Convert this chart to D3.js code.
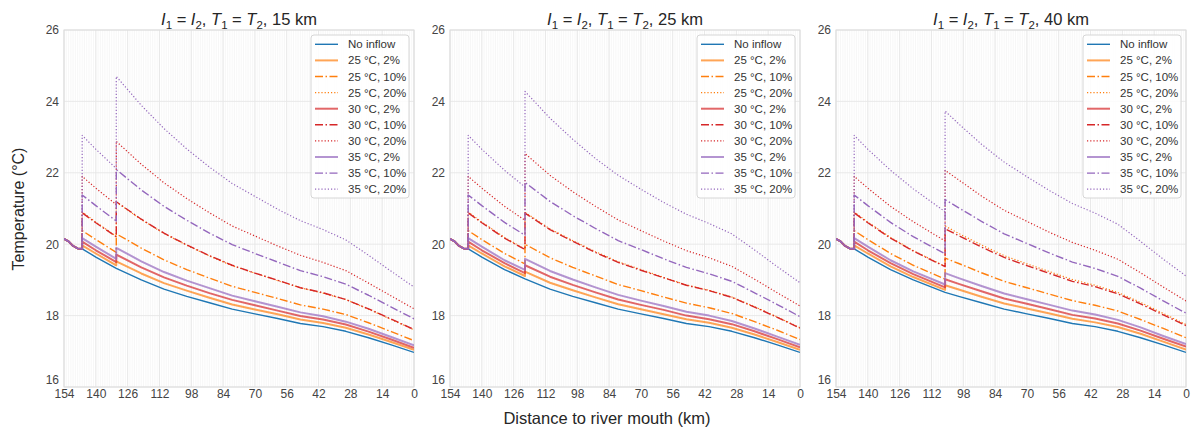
<!DOCTYPE html>
<html>
<head>
<meta charset="utf-8">
<script src="https://cdn.jsdelivr.net/npm/d3@7"></script>
<style>
  html, body { margin: 0; padding: 0; background: #fff; }
  svg { display: block; font-family: "Liberation Sans", Arial, sans-serif; }
</style>
</head>
<body>
<svg id="chart" width="1194" height="432"></svg>
<script>
// Water temperature along the river (km to mouth), for two inflows of equal
// size and temperature; the second inflow sits 15, 25 or 40 km downstream.

const seriesNames = [
  "No inflow",
  "25 °C, 2%", "25 °C, 10%", "25 °C, 20%",
  "30 °C, 2%", "30 °C, 10%", "30 °C, 20%",
  "35 °C, 2%", "35 °C, 10%", "35 °C, 20%"
];

const xTicks = [154, 140, 126, 112, 98, 84, 70, 56, 42, 28, 14, 0];
const yTicks = [16, 18, 20, 22, 24, 26];
const spacings = ["15 km", "25 km", "40 km"];

// distance grids (km); a repeated distance marks the jump at an inflow
const km15 = [154,152,150,148,146,146,140,131,131,120,110,100,90,80,70,60,50,40,30,20,10,0];
const km25 = [154,152,150,148,146,146,140,130,121,121,110,100,90,80,70,60,50,40,30,20,10,0];
const km40 = [154,152,150,148,146,146,140,130,120,106,106,100,90,80,70,60,50,40,30,20,10,0];

// temperatures (°C), one row per series in seriesNames order
const temps15 = [
  [20.15,20.08,19.95,19.88,19.87,19.87,19.64,19.32,19.32,19.00,18.74,18.54,18.36,18.18,18.05,17.92,17.78,17.69,17.56,17.38,17.18,16.97],
  [20.15,20.08,19.95,19.88,19.87,19.97,19.74,19.41,19.52,19.18,18.91,18.70,18.50,18.31,18.17,18.04,17.89,17.79,17.66,17.47,17.26,17.04],
  [20.15,20.08,19.95,19.88,19.87,20.38,20.13,19.77,20.29,19.89,19.56,19.29,19.05,18.82,18.65,18.48,18.30,18.18,18.03,17.80,17.55,17.30],
  [20.15,20.08,19.95,19.88,19.87,20.90,20.62,20.22,21.18,20.69,20.30,19.97,19.67,19.40,19.19,18.98,18.78,18.63,18.45,18.18,17.89,17.60],
  [20.15,20.08,19.95,19.88,19.87,20.07,19.83,19.50,19.71,19.35,19.07,18.84,18.63,18.44,18.29,18.14,17.99,17.89,17.75,17.55,17.33,17.10],
  [20.15,20.08,19.95,19.88,19.87,20.88,20.60,20.21,21.19,20.70,20.31,19.98,19.68,19.41,19.19,18.99,18.78,18.64,18.45,18.19,17.90,17.61],
  [20.15,20.08,19.95,19.88,19.87,21.90,21.57,21.11,22.88,22.24,21.72,21.28,20.88,20.51,20.23,19.95,19.69,19.49,19.26,18.91,18.55,18.19],
  [20.15,20.08,19.95,19.88,19.87,20.17,19.93,19.59,19.90,19.52,19.22,18.98,18.77,18.56,18.40,18.25,18.09,17.98,17.83,17.63,17.40,17.17],
  [20.15,20.08,19.95,19.88,19.87,21.38,21.08,20.65,22.09,21.52,21.06,20.67,20.31,19.99,19.74,19.50,19.26,19.09,18.88,18.57,18.24,17.91],
  [20.15,20.08,19.95,19.88,19.87,23.05,22.66,22.12,24.70,23.89,23.24,22.67,22.16,21.70,21.34,20.98,20.66,20.41,20.12,19.69,19.24,18.80]
];
const temps25 = [
  [20.15,20.08,19.95,19.88,19.87,19.87,19.64,19.29,19.03,19.03,18.74,18.54,18.36,18.18,18.05,17.92,17.78,17.69,17.56,17.38,17.18,16.97],
  [20.15,20.08,19.95,19.88,19.87,19.97,19.74,19.38,19.11,19.23,18.92,18.71,18.51,18.32,18.18,18.04,17.90,17.80,17.66,17.47,17.26,17.04],
  [20.15,20.08,19.95,19.88,19.87,20.38,20.13,19.74,19.45,20.00,19.62,19.35,19.11,18.87,18.70,18.52,18.35,18.22,18.06,17.83,17.59,17.33],
  [20.15,20.08,19.95,19.88,19.87,20.90,20.62,20.19,19.86,20.89,20.43,20.10,19.79,19.51,19.29,19.07,18.86,18.71,18.52,18.25,17.96,17.66],
  [20.15,20.08,19.95,19.88,19.87,20.07,19.83,19.47,19.19,19.41,19.09,18.86,18.65,18.45,18.30,18.16,18.00,17.90,17.76,17.56,17.34,17.11],
  [20.15,20.08,19.95,19.88,19.87,20.88,20.60,20.17,19.85,20.87,20.41,20.08,19.77,19.49,19.27,19.06,18.85,18.70,18.51,18.24,17.95,17.65],
  [20.15,20.08,19.95,19.88,19.87,21.90,21.57,21.06,20.67,22.54,21.93,21.47,21.06,20.68,20.38,20.09,19.82,19.62,19.38,19.02,18.64,18.27],
  [20.15,20.08,19.95,19.88,19.87,20.17,19.93,19.55,19.28,19.59,19.25,19.01,18.79,18.58,18.42,18.27,18.11,18.00,17.85,17.64,17.41,17.18],
  [20.15,20.08,19.95,19.88,19.87,21.38,21.08,20.61,20.25,21.73,21.20,20.80,20.44,20.10,19.85,19.59,19.35,19.17,18.96,18.64,18.31,17.97],
  [20.15,20.08,19.95,19.88,19.87,23.05,22.66,22.07,21.60,24.28,23.53,22.94,22.40,21.93,21.54,21.17,20.84,20.58,20.29,19.84,19.37,18.92]
];
const temps40 = [
  [20.15,20.08,19.95,19.88,19.87,19.87,19.64,19.29,19.00,18.65,18.65,18.54,18.36,18.18,18.05,17.92,17.78,17.69,17.56,17.38,17.18,16.97],
  [20.15,20.08,19.95,19.88,19.87,19.97,19.74,19.38,19.08,18.72,18.85,18.73,18.53,18.34,18.20,18.06,17.91,17.81,17.68,17.49,17.27,17.05],
  [20.15,20.08,19.95,19.88,19.87,20.38,20.13,19.74,19.41,19.02,19.61,19.46,19.20,18.96,18.78,18.60,18.42,18.29,18.13,17.89,17.64,17.38],
  [20.15,20.08,19.95,19.88,19.87,20.90,20.62,20.19,19.82,19.38,20.51,20.30,19.98,19.68,19.45,19.23,19.01,18.85,18.65,18.37,18.06,17.75],
  [20.15,20.08,19.95,19.88,19.87,20.07,19.83,19.47,19.16,18.79,19.02,18.89,18.68,18.48,18.33,18.18,18.02,17.92,17.78,17.58,17.35,17.13],
  [20.15,20.08,19.95,19.88,19.87,20.88,20.60,20.17,19.81,19.37,20.43,20.24,19.92,19.63,19.40,19.18,18.96,18.81,18.61,18.33,18.02,17.72],
  [20.15,20.08,19.95,19.88,19.87,21.90,21.57,21.06,20.63,20.09,22.07,21.80,21.35,20.95,20.64,20.33,20.05,19.83,19.58,19.20,18.80,18.41],
  [20.15,20.08,19.95,19.88,19.87,20.17,19.93,19.55,19.24,18.87,19.19,19.05,18.83,18.62,18.46,18.30,18.14,18.03,17.88,17.67,17.43,17.20],
  [20.15,20.08,19.95,19.88,19.87,21.38,21.08,20.61,20.21,19.73,21.25,21.02,20.64,20.29,20.02,19.75,19.50,19.32,19.10,18.77,18.41,18.07],
  [20.15,20.08,19.95,19.88,19.87,23.05,22.66,22.07,21.55,20.91,23.73,23.37,22.80,22.30,21.89,21.50,21.14,20.87,20.56,20.08,19.58,19.11]
];

const panels = [
  { spacing: spacings[0], km: km15, temps: temps15 },
  { spacing: spacings[1], km: km25, temps: temps25 },
  { spacing: spacings[2], km: km40, temps: temps40 }
];

// line styling per series: colour by inflow temperature, dash by inflow share
const palette = { blue: "#1f77b4", orange: "#ff7f0e", red: "#d62728", purple: "#9467bd" };
const lineStyle = [
  { color: palette.blue,   width: 1.4, dash: null,             opacity: 1 },
  { color: palette.orange, width: 2.0, dash: null,             opacity: 0.7 },
  { color: palette.orange, width: 1.4, dash: "8,2.5,1.5,2.5",  opacity: 1 },
  { color: palette.orange, width: 1.2, dash: "1.2,2",          opacity: 1 },
  { color: palette.red,    width: 2.0, dash: null,             opacity: 0.7 },
  { color: palette.red,    width: 1.4, dash: "8,2.5,1.5,2.5",  opacity: 1 },
  { color: palette.red,    width: 1.2, dash: "1.2,2",          opacity: 1 },
  { color: palette.purple, width: 2.0, dash: null,             opacity: 0.7 },
  { color: palette.purple, width: 1.4, dash: "8,2.5,1.5,2.5",  opacity: 1 },
  { color: palette.purple, width: 1.2, dash: "1.2,2",          opacity: 1 }
];

const svg = d3.select("#chart");
const plotW = 350, plotTop = 30, plotBottom = 387;
const lefts = [64, 450, 836];

panels.forEach((p, pi) => {
  const left = lefts[pi];
  const x = d3.scaleLinear().domain([154, 0]).range([left, left + plotW]);
  const y = d3.scaleLinear().domain([16, 26]).range([plotBottom, plotTop]);
  const g = svg.append("g");

  // minor vertical grid every kilometre
  g.append("g").selectAll("line")
    .data(d3.range(0, 155, 1))
    .join("line")
    .attr("x1", d => x(d)).attr("x2", d => x(d))
    .attr("y1", plotTop).attr("y2", plotBottom)
    .attr("stroke", "#f1f1f1").attr("stroke-width", 0.6);

  // major grid
  g.append("g").selectAll("line")
    .data(xTicks)
    .join("line")
    .attr("x1", d => x(d)).attr("x2", d => x(d))
    .attr("y1", plotTop).attr("y2", plotBottom)
    .attr("stroke", "#e6e6e6").attr("stroke-width", 0.9);
  g.append("g").selectAll("line")
    .data(yTicks)
    .join("line")
    .attr("x1", left).attr("x2", left + plotW)
    .attr("y1", d => y(d)).attr("y2", d => y(d))
    .attr("stroke", "#e6e6e6").attr("stroke-width", 0.9);

  // axes (labels only)
  const xAxis = g.append("g")
    .attr("transform", `translate(0,${plotBottom})`)
    .call(d3.axisBottom(x).tickValues(xTicks).tickSize(0).tickPadding(2).tickFormat(d3.format("d")));
  const yAxis = g.append("g")
    .attr("transform", `translate(${left},0)`)
    .call(d3.axisLeft(y).tickValues(yTicks).tickSize(0).tickPadding(5).tickFormat(d3.format("d")));
  [xAxis, yAxis].forEach(a => {
    a.select(".domain").remove();
    a.selectAll("text").attr("fill", "#444").style("font-size", "12px")
      .style("font-family", "'Liberation Sans', Arial, sans-serif");
  });
  // lift the bottom temperature label clear of the first distance label
  yAxis.selectAll(".tick").filter(d => d === 16).select("text").attr("dy", "-0.3em");

  // frame
  g.append("rect")
    .attr("x", left).attr("y", plotTop)
    .attr("width", plotW).attr("height", plotBottom - plotTop)
    .attr("fill", "none").attr("stroke", "#dcdcdc").attr("stroke-width", 1);

  // series
  const line = d3.line().x(d => x(d[0])).y(d => y(d[1]));
  const clipId = `clip${pi}`;
  svg.append("clipPath").attr("id", clipId).append("rect")
    .attr("x", left).attr("y", plotTop).attr("width", plotW).attr("height", plotBottom - plotTop);
  const lines = g.append("g").attr("clip-path", `url(#${clipId})`);
  p.temps.forEach((vals, si) => {
    const st = lineStyle[si];
    lines.append("path")
      .datum(p.km.map((k, i) => [k, vals[i]]))
      .attr("d", line)
      .attr("fill", "none")
      .attr("stroke", st.color)
      .attr("stroke-width", st.width)
      .attr("stroke-opacity", st.opacity)
      .attr("stroke-dasharray", st.dash)
      .attr("stroke-linejoin", "round");
  });

  // title: I1 = I2, T1 = T2, spacing
  const title = g.append("text")
    .attr("x", left + plotW / 2).attr("y", 25)
    .attr("text-anchor", "middle")
    .attr("fill", "#262626")
    .style("font-size", "16.5px");
  const parts = [
    ["I", "i"], ["1", "s"], [" = ", ""], ["I", "i"], ["2", "s"], [", ", ""],
    ["T", "i"], ["1", "s"], [" = ", ""], ["T", "i"], ["2", "s"], [", " + p.spacing, ""]
  ];
  let lowered = false;
  parts.forEach(([t, kind]) => {
    const ts = title.append("tspan").text(t);
    if (kind === "i") ts.style("font-style", "italic");
    if (kind === "s") {
      ts.style("font-size", "11.5px").attr("dy", lowered ? 0 : 3.5);
      lowered = true;
    } else if (lowered) {
      ts.attr("dy", -3.5);
      lowered = false;
    }
  });

  // legend
  const lgX = left + plotW - 103, lgY = 35, rowH = 16.1;
  const lg = g.append("g");
  lg.append("rect")
    .attr("x", lgX).attr("y", lgY)
    .attr("width", 98).attr("height", 163)
    .attr("rx", 3)
    .attr("fill", "#fff").attr("fill-opacity", 0.85)
    .attr("stroke", "#d6d6d6").attr("stroke-width", 1);
  seriesNames.forEach((name, si) => {
    const st = lineStyle[si];
    const cy = lgY + 9.3 + si * rowH;
    lg.append("line")
      .attr("x1", lgX + 4).attr("x2", lgX + 27)
      .attr("y1", cy).attr("y2", cy)
      .attr("stroke", st.color).attr("stroke-width", st.width)
      .attr("stroke-opacity", st.opacity)
      .attr("stroke-dasharray", st.dash);
    lg.append("text")
      .attr("x", lgX + 37).attr("y", cy).attr("dy", "0.35em")
      .attr("fill", "#333")
      .style("font-size", "11.5px")
      .text(name);
  });
});

// shared axis titles
svg.append("text")
  .attr("transform", "translate(24,209) rotate(-90)")
  .attr("text-anchor", "middle")
  .attr("fill", "#262626")
  .style("font-size", "16px")
  .text("Temperature (°C)");
svg.append("text")
  .attr("x", 607).attr("y", 424)
  .attr("text-anchor", "middle")
  .attr("fill", "#262626")
  .style("font-size", "16.5px")
  .text("Distance to river mouth (km)");
</script>
</body>
</html>
